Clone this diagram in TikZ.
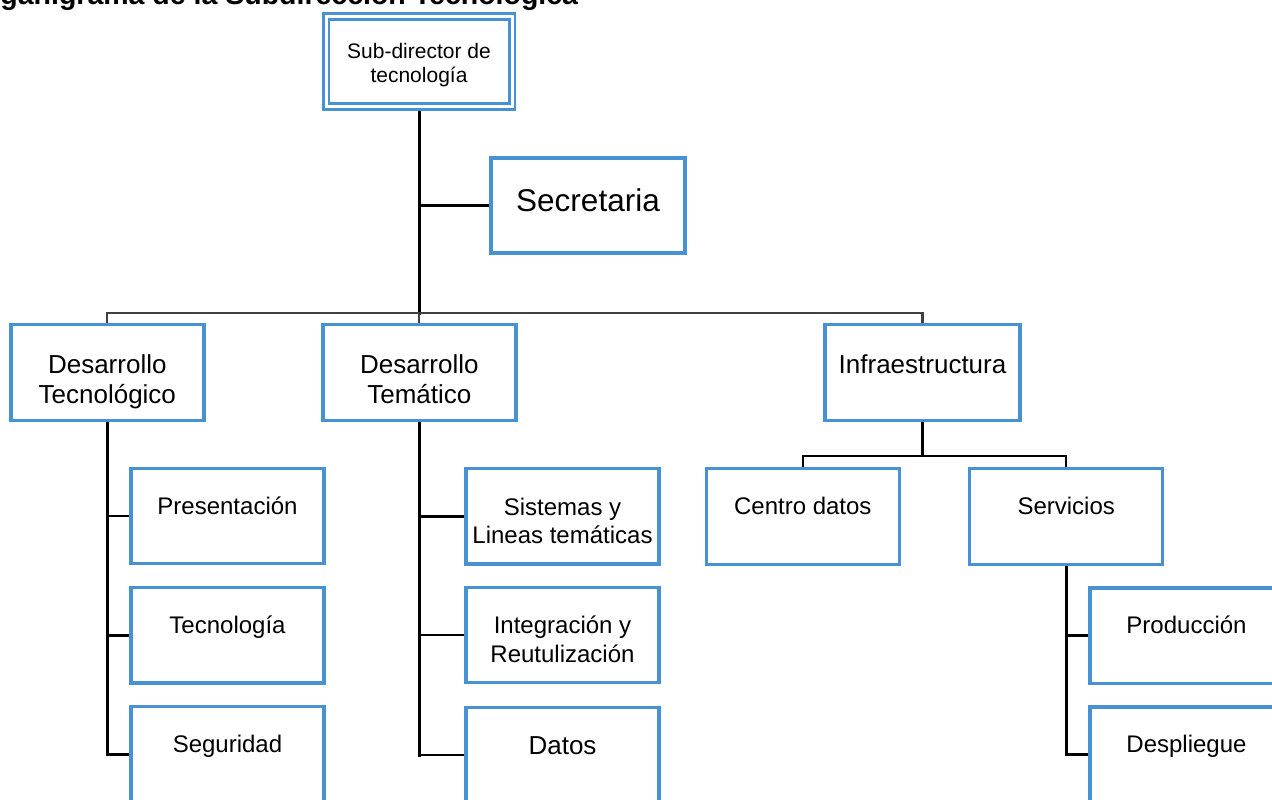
\documentclass[tikz,border=0pt]{standalone}
\usepackage{fontspec}
\setmainfont{Liberation Sans}
\usetikzlibrary{backgrounds}

\definecolor{boxblue}{RGB}{70,146,212}
\definecolor{busgray}{RGB}{64,64,64}

% multi-line caption whose reference point is the first baseline
\newcommand\stk[1]{\begin{tabular}[t]{@{}c@{}}#1\end{tabular}}

\tikzset{
  unitbox/.style={rectangle, draw=boxblue, line width=3.4pt, fill=white,
    inner sep=0pt, outer sep=0pt, minimum width=193pt, minimum height=95.5pt},
  headbox/.style={unitbox, line width=2.8pt, double=white, double distance=3pt,
    minimum width=186pt, minimum height=90pt},
  caption/.style={anchor=base, inner sep=0pt, outer sep=0pt, text=black},
  small/.style={font=\fontsize{24}{28.5}\selectfont},
  medium/.style={font=\fontsize{26}{30}\selectfont},
  trunk/.style={line width=3pt, black, line cap=rect},
  branch/.style={line width=2.5pt, black, line cap=rect},
  bus/.style={line width=2.2pt, busgray, line cap=rect},
}

\begin{document}
\begin{tikzpicture}[x=1pt,y=-1pt]
\useasboundingbox (0,0) rectangle (1272,800);
\clip (0,0) rectangle (1272,800);

% title
\node[caption, anchor=base east, font=\bfseries\fontsize{28.5}{34}\selectfont]
  (title) at (578,5) {Organigrama de la Subdirección Tecnológica};

% boxes
\node[headbox] (head) at (419,61.5) {};
\node[unitbox, minimum width=194pt, minimum height=95pt] (secr) at (588,205.5) {};

\node[unitbox] (dtec)  at (107.3,372.5) {};
\node[unitbox] (dtem)  at (419.3,372.5) {};
\node[unitbox, minimum width=195pt] (infra) at (922.5,372.5) {};

\node[unitbox] (pres)  at (227.5,516) {};
\node[unitbox] (tecn)  at (227.5,635.3) {};
\node[unitbox] (segu)  at (227.5,754.5) {};

\node[unitbox] (sist)  at (562.5,516.3) {};
\node[unitbox] (integ) at (562.5,635) {};
\node[unitbox] (datos) at (562.5,755) {};

\node[unitbox] (centro) at (802.8,516.5) {};
\node[unitbox] (serv)   at (1066.2,516.5) {};
\node[unitbox] (prod)   at (1186.5,635.7) {};
\node[unitbox] (despl)  at (1186.5,754.7) {};

% captions
\node[caption, font=\fontsize{21}{24.4}\selectfont] (head-t) at ([yshift=-41.8pt]head.north)
  {\stk{Sub-director de\\tecnología}};
\node[caption, font=\fontsize{31.5}{36}\selectfont] (secr-t) at ([yshift=-53.7pt]secr.north) {Secretaria};
\node[caption, medium] (dtec-t) at ([yshift=-49pt]dtec.north) {\stk{Desarrollo\\Tecnológico}};
\node[caption, medium] (dtem-t) at ([yshift=-49pt]dtem.north) {\stk{Desarrollo\\Temático}};
\node[caption, medium] (infra-t) at ([yshift=-49pt]infra.north) {Infraestructura};

\node[caption, small] (pres-t) at ([yshift=-46pt]pres.north) {Presentación};
\node[caption, small] (tecn-t) at ([yshift=-46pt]tecn.north) {Tecnología};
\node[caption, small] (segu-t) at ([yshift=-46pt]segu.north) {Seguridad};

\node[caption, small] (sist-t)  at ([yshift=-46.5pt]sist.north) {\stk{Sistemas y\\Lineas temáticas}};
\node[caption, small] (integ-t) at ([yshift=-46.5pt]integ.north) {\stk{Integración y\\Reutulización}};
\node[caption, medium] (datos-t) at ([yshift=-47.7pt]datos.north) {Datos};

\node[caption, small] (centro-t) at ([yshift=-45.5pt]centro.north) {Centro datos};
\node[caption, small] (serv-t)   at ([yshift=-45.5pt]serv.north) {Servicios};
\node[caption, small] (prod-t)   at ([yshift=-46pt]prod.north) {Producción};
\node[caption, small] (despl-t)  at ([yshift=-46pt]despl.north) {Despliegue};

% connectors, kept beneath the boxes
\begin{scope}[on background layer]
  \fill[white] (0,0) rectangle (1272,800);
  \coordinate (busy) at (0,313.3);
  \coordinate (suby) at (0,456);

  \draw[trunk] (head.south) -- (head.south |- busy);
  \draw[branch] (head.south |- secr.west) -- (secr.west);

  \draw[bus] (dtec.north) -- (dtec.north |- busy) -- (infra.north |- busy) -- (infra.north);
  \draw[bus] (dtem.north |- busy) -- (dtem.north);

  \draw[trunk] (dtec.south) -- (dtec.south |- segu.west);
  \foreach \b in {pres,tecn,segu} \draw[branch] (dtec.south |- \b.west) -- (\b.west);

  \draw[trunk] (dtem.south) -- (dtem.south |- datos.west);
  \foreach \b in {sist,integ,datos} \draw[branch] (dtem.south |- \b.west) -- (\b.west);

  \draw[branch] (infra.south) -- (infra.south |- suby);
  \draw[branch] (centro.north) -- (centro.north |- suby) -- (serv.north |- suby) -- (serv.north);

  \draw[trunk] (serv.south) -- (serv.south |- despl.west);
  \foreach \b in {prod,despl} \draw[branch] (serv.south |- \b.west) -- (\b.west);
\end{scope}
\end{tikzpicture}
\end{document}
